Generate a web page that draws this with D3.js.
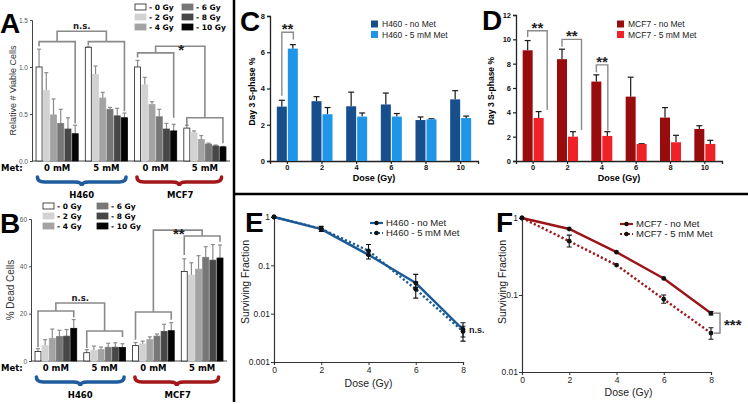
<!DOCTYPE html>
<html><head><meta charset="utf-8">
<script src="https://cdn.jsdelivr.net/npm/d3@7/dist/d3.min.js"></script>
<style>body{margin:0;background:#fff}svg{display:block}</style>
</head><body>
<svg id="c" width="748" height="404"></svg>
<script>
// ---------------- data ----------------
const doseLegend = ["- 0 Gy","- 2 Gy","- 4 Gy","- 6 Gy","- 8 Gy","- 10 Gy"];
const metLabels = ["0 mM","5 mM","0 mM","5 mM"];
const cellLines = ["H460","MCF7"];
const viableMean = [[1.00,0.75,0.49,0.40,0.34,0.29],[1.21,0.92,0.67,0.55,0.48,0.46],[1.00,0.81,0.60,0.47,0.34,0.32],[0.35,0.30,0.23,0.18,0.16,0.15]];
const viableErr  = [[0.19,0.19,0.17,0.15,0.12,0.09],[0.005,0.09,0.06,0.02,0.08,0.05],[0.07,0.08,0.03,0.08,0.06,0.07],[0.03,0.02,0.04,0.01,0.01,0.005]];
const deadMean = [[4.0,6.5,9.6,10.3,10.5,13.8],[3.5,4.5,4.8,5.8,5.8,5.7],[6.5,7.2,9.0,10.5,12.5,12.8],[37.8,36.3,38.8,43.8,42.6,43.5]];
const deadErr  = [[1.2,2.5,3.9,2.7,2.8,3.7],[1.3,1.8,1.1,1.7,1.9,1.6],[1.3,1.2,1.2,0.9,3.0,3.4],[5.4,5.2,5.7,4.5,6.6,5.5]];
const sDoses = [0,2,4,6,8,10];
const h460SNoMet = [3.0,3.3,3.02,3.12,2.26,3.4];
const h460SNoMetErr = [0.35,0.25,0.78,0.63,0.17,0.48];
const h460SMet = [6.2,2.58,2.45,2.45,2.3,2.37];
const h460SMetErr = [0.22,0.37,0.2,0.17,0.03,0.11];
const mcf7SNoMet = [9.1,8.37,6.53,5.29,3.57,2.63];
const mcf7SNoMetErr = [0.8,0.82,0.55,1.6,0.82,0.27];
const mcf7SMet = [3.54,2.0,2.06,1.4,1.54,1.4];
const mcf7SMetErr = [0.52,0.41,0.35,0.02,0.57,0.3];
const sfDoses = [0,2,4,6,8];
const h460SFNoMet = [1,0.56,0.165,0.043,0.0047];
const h460SFNoMetLo = [1,0.50,0.135,0.035,0.0027];
const h460SFNoMetHi = [1,0.64,0.20,0.065,0.0065];
const h460SFMet = [1,0.57,0.20,0.032,0.0043];
const h460SFMetLo = [1,0.57,0.16,0.021,0.0033];
const h460SFMetHi = [1,0.57,0.27,0.045,0.0055];
const mcf7SFNoMet = [1,0.72,0.36,0.164,0.058];
const mcf7SFNoMetLo = [1,0.72,0.36,0.164,0.055];
const mcf7SFNoMetHi = [1,0.72,0.36,0.164,0.061];
const mcf7SFMet = [1,0.50,0.245,0.088,0.032];
const mcf7SFMetLo = [1,0.42,0.245,0.078,0.0266];
const mcf7SFMetHi = [1,0.60,0.245,0.10,0.0376];
// annotation brackets (data units)
const aBrackets = [{g:0,y:1.27,yl:1.22,yr:0.40},{g:1,y:1.27,yl:1.23,yr:0.53},{g:2,y:1.15,yl:1.10,yr:0.46},{g:3,y:0.46,yl:0.37,yr:0.19}];
const aTops = [{a:0,b:1,y:1.38,label:"n.s."},{a:2,b:3,y:1.22,label:"*"}];
const bBrackets = [{g:0,y:21.1,yl:5.8,yr:18.4},{g:1,y:12.7,yl:5.5,yr:10.1},{g:2,y:20.7,yl:9.0,yr:17.4},{g:3,y:52.8,yl:44.8,yr:50.4}];
const bTops = [{a:0,b:1,y:24.5,label:"n.s."},{a:2,b:3,y:55.3,label:"**"}];

// ---------------- style ----------------
const AR = "'Liberation Sans', Arial, Helvetica, sans-serif";
const DV = "'DejaVu Sans', Verdana, sans-serif";
const shades = ["#ffffff","#d2d2d2","#a3a3a3","#777777","#474747","#050505"];
const BLUE = "#1f5c9e", RED = "#a3171b";
const svg = d3.select("#c");

function txt(x,y,s,o={}){
  const t = svg.append("text").attr("x",x).attr("y",y).text(s)
    .attr("font-family",o.f||AR).attr("font-size",o.size||9)
    .attr("font-weight",o.w||"normal").attr("fill",o.fill||"#000")
    .attr("text-anchor",o.anchor||"start");
  if(o.rot) t.attr("transform",`rotate(-90,${x},${y})`);
  return t;
}
function bracketPath(xL,xR,yT,yL,yR,col="#8a8a8a",w=1.6){
  svg.append("path").attr("d",`M${xL},${yL}V${yT}H${xR}V${yR}`)
    .attr("fill","none").attr("stroke",col).attr("stroke-width",w);
}
function brace(x1,x2,yTop,yMid,yTip,col){
  const m=(x1+x2)/2, r=7;
  svg.append("path").attr("d",
   `M${x1},${yTop}Q${x1},${yMid} ${x1+r},${yMid}L${m-r},${yMid}Q${m},${yMid} ${m},${yTip}Q${m},${yMid} ${m+r},${yMid}L${x2-r},${yMid}Q${x2},${yMid} ${x2},${yTop}`)
   .attr("fill","none").attr("stroke",col).attr("stroke-width",3.6).attr("stroke-linecap","round");
}

// ---------------- panels A & B ----------------
function groupedPanel(o){
  const y = d3.scaleLinear().domain([0,o.yMax]).range([o.bottom,o.top]);
  const xg = d3.scaleBand().domain(d3.range(4)).range([o.left,o.right]).paddingInner(0.12).paddingOuter(0.07);
  const xd = d3.scaleBand().domain(d3.range(6)).range([0,xg.bandwidth()]);
  const ax = svg.append("g").attr("transform",`translate(${o.left},0)`)
    .call(d3.axisLeft(y).tickValues(o.ticks).tickFormat(o.fmt).tickSize(2).tickPadding(2));
  ax.select(".domain").attr("stroke","#444").attr("stroke-width",1);
  ax.selectAll(".tick line").attr("stroke","#444");
  ax.selectAll("text").attr("font-family",AR).attr("font-size",6.5).attr("fill","#555");
  svg.append("line").attr("x1",o.left).attr("x2",o.right).attr("y1",o.bottom).attr("y2",o.bottom).attr("stroke","#444").attr("stroke-width",1);
  const cx=(g,d)=>xg(g)+xd(d)+xd.bandwidth()/2;
  o.means.forEach((arr,g)=>arr.forEach((v,d)=>{
    const x0 = xg(g)+xd(d)+0.6, w = xd.bandwidth()-1.2, top=y(v+o.errs[g][d]);
    svg.append("line").attr("x1",cx(g,d)).attr("x2",cx(g,d)).attr("y1",y(v)).attr("y2",top).attr("stroke","#8c8c8c").attr("stroke-width",1.2);
    svg.append("line").attr("x1",cx(g,d)-2).attr("x2",cx(g,d)+2).attr("y1",top).attr("y2",top).attr("stroke","#8c8c8c").attr("stroke-width",1.2);
    svg.append("rect").attr("x",x0).attr("y",y(v)).attr("width",w).attr("height",y(0)-y(v))
      .attr("fill",shades[d]).attr("stroke",d===0?"#222":shades[d]).attr("stroke-width",0.8);
  }));
  const mids=[];
  o.brackets.forEach(b=>{
    const xL=cx(b.g,0), xR=cx(b.g,5);
    bracketPath(xL,xR,y(b.y),y(b.yl),y(b.yr));
    mids[b.g]=(xL+xR)/2;
  });
  o.tops.forEach(t=>{
    const yl = y(o.brackets[t.a].y), yr = y(o.brackets[t.b].y);
    bracketPath(mids[t.a],mids[t.b],y(t.y),yl,yr);
    const isStar = t.label.indexOf("*")>=0;
    txt((mids[t.a]+mids[t.b])/2+(isStar?1:0), y(t.y)+(isStar?9:-2.5), t.label,{f:isStar?AR:DV,w:"bold",size:isStar?15:8.5,anchor:"middle",fill:"#222"});
  });
  txt(o.titleX,(o.top+o.bottom)/2,o.title,{rot:true,anchor:"middle",size:o.titleSize||9,fill:"#333"});
  txt(1,o.bottom+10,"Met:",{f:DV,w:"bold",size:8.5});
  metLabels.forEach((m,g)=>txt(xg(g)+xg.bandwidth()/2,o.bottom+10,m,{f:DV,w:"bold",size:8.5,anchor:"middle"}));
  brace(xg(0)+2,xg(1)+xg.bandwidth()-2,o.bottom+16,o.bottom+21,o.bottom+25,BLUE);
  brace(xg(2)+3,xg(3)+xg.bandwidth()-5,o.bottom+16,o.bottom+21,o.bottom+25,RED);
  txt((xg(0)+xg(1)+xg.bandwidth())/2,o.bottom+37,cellLines[0],{f:DV,w:"bold",size:8.5,anchor:"middle"});
  txt((xg(2)+xg(3)+xg.bandwidth())/2,o.bottom+37,cellLines[1],{f:DV,w:"bold",size:8.5,anchor:"middle"});
  doseLegend.forEach((s,i)=>{
    const col=Math.floor(i/3), row=i%3;
    const bx=o.legX+col*o.legDX, by=o.legY+row*10;
    svg.append("rect").attr("x",bx).attr("y",by).attr("width",11).attr("height",6)
      .attr("fill",shades[i]).attr("stroke",i===0?"#222":shades[i]).attr("stroke-width",0.8);
    txt(bx+14,by+6,s,{f:DV,w:"bold",size:7.5});
  });
}
groupedPanel({yMax:1.5,top:20,bottom:161,left:32,right:230,ticks:[0,0.5,1,1.5],fmt:d3.format(".1f"),
  means:viableMean,errs:viableErr,brackets:aBrackets,tops:aTops,title:"Relative # Viable Cells",titleX:16,
  legX:135,legY:4,legDX:47});
groupedPanel({yMax:60,top:219,bottom:361,left:31,right:227,ticks:[0,20,40,60],fmt:d3.format("d"),
  means:deadMean,errs:deadErr,brackets:bBrackets,tops:bTops,title:"% Dead Cells",titleX:14,titleSize:10,
  legX:43,legY:203,legDX:54});

// ---------------- panels C & D ----------------
function pairedPanel(o){
  const y = d3.scaleLinear().domain([0,o.yMax]).range([161,o.top]);
  const x = d3.scaleBand().domain(sDoses).range([o.left,o.right]);
  const ax = svg.append("g").attr("transform",`translate(${o.left},0)`)
    .call(d3.axisLeft(y).ticks(o.yMax/2).tickSize(3).tickPadding(2));
  const bx = svg.append("g").attr("transform",`translate(0,161)`)
    .call(d3.axisBottom(x).tickSize(3).tickPadding(1));
  [ax,bx].forEach(a=>{a.select(".domain").attr("stroke","#222").attr("stroke-width",1.3);
    a.selectAll(".tick line").attr("stroke","#222").attr("stroke-width",1.2);
    a.selectAll("text").attr("font-family",AR).attr("font-weight","bold").attr("font-size",7.5).attr("fill","#111");});
  const series=[[o.a,o.aErr,o.colA,-1],[o.b,o.bErr,o.colB,1]];
  series.forEach(([vals,errs,col,side])=>vals.forEach((v,i)=>{
    const c = x(sDoses[i])+x.bandwidth()/2;
    const x0 = side<0 ? c-10.5 : c+0.5, bc = x0+5, top=y(v+errs[i]);
    svg.append("line").attr("x1",bc).attr("x2",bc).attr("y1",y(v)).attr("y2",top).attr("stroke","#1a1a1a").attr("stroke-width",1.2);
    svg.append("line").attr("x1",bc-3).attr("x2",bc+3).attr("y1",top).attr("y2",top).attr("stroke","#1a1a1a").attr("stroke-width",1.2);
    svg.append("rect").attr("x",x0).attr("y",y(v)).attr("width",10).attr("height",161-y(v)).attr("fill",col);
  }));
  o.sig.forEach(s=>{
    const c = x(sDoses[s.i])+x.bandwidth()/2;
    bracketPath(c-5.5,c+s.dx,y(s.y),y(s.yl),y(s.yr),"#8a8a8a",1.4);
    txt((c-5.5+c+s.dx)/2,y(s.y)+2,"**",{w:"bold",size:15,anchor:"middle",fill:"#222"});
  });
  txt(o.titleX,(o.top+161)/2+3,"Day 3 S-phase %",{rot:true,anchor:"middle",w:"bold",size:8.5});
  txt((o.left+o.right)/2,181,"Dose (Gy)",{anchor:"middle",w:"bold",size:9});
  o.legend.forEach((s,i)=>{
    svg.append("rect").attr("x",o.legX).attr("y",o.legY+i*10.5-3.5).attr("width",7).attr("height",7).attr("fill",i?o.colB:o.colA);
    txt(o.legX+11,o.legY+i*10.5+3,s,{size:8.5,fill:"#222"});
  });
}
pairedPanel({yMax:8,top:16,left:270,right:478,a:h460SNoMet,aErr:h460SNoMetErr,b:h460SMet,bErr:h460SMetErr,
  colA:"#164f8c",colB:"#1e95e6",titleX:255,legX:371,legY:24,legend:["H460 - no Met","H460 - 5 mM Met"],
  sig:[{i:0,dx:6,y:7.1,yl:3.6,yr:6.7}]});
pairedPanel({yMax:12,top:15,left:516,right:722,a:mcf7SNoMet,aErr:mcf7SNoMetErr,b:mcf7SMet,bErr:mcf7SMetErr,
  colA:"#980c0e",colB:"#ee2227",titleX:494,legX:617,legY:24,legend:["MCF7 - no Met","MCF7 - 5 mM Met"],
  sig:[{i:0,dx:14,y:10.7,yl:10.2,yr:4.2},{i:1,dx:14,y:10.0,yl:9.4,yr:2.55},{i:2,dx:6,y:7.9,yl:7.3,yr:2.5}]});

// ---------------- panels E & F ----------------
function survivalPanel(o){
  const x = d3.scaleLinear().domain([0,8]).range([o.left,o.right]);
  const y = d3.scaleLog().domain([o.yMin,1]).range([o.bottom,o.top]);
  const ax = svg.append("g").attr("transform",`translate(${o.left},0)`)
    .call(d3.axisLeft(y).tickValues(o.yTicks).tickFormat(d=>String(d)).tickSize(3).tickPadding(1));
  const bx = svg.append("g").attr("transform",`translate(0,${o.bottom})`)
    .call(d3.axisBottom(x).tickValues(sfDoses).tickSize(3).tickPadding(2));
  [ax,bx].forEach(a=>{a.select(".domain").attr("stroke","#333").attr("stroke-width",1.2);
    a.selectAll(".tick line").attr("stroke","#333");
    a.selectAll("text").attr("font-family",AR).attr("font-size",8.5).attr("fill","#222");});
  const line = d3.line().x((d,i)=>x(sfDoses[i])).y(d=>y(d));
  o.series.forEach((s,k)=>{
    svg.append("path").datum(s.v).attr("d",line).attr("fill","none").attr("stroke",o.col)
      .attr("stroke-width",2.4).attr("stroke-dasharray",k?"2.2,2.2":null);
  });
  o.series.forEach(s=>s.v.forEach((v,i)=>{
    const cx=x(sfDoses[i]);
    if(s.hi[i]>s.lo[i]*1.02){
      svg.append("path").attr("d",`M${cx-2.5},${y(s.hi[i])}H${cx+2.5}M${cx},${y(s.hi[i])}V${y(s.lo[i])}M${cx-2.5},${y(s.lo[i])}H${cx+2.5}`)
        .attr("stroke","#111").attr("stroke-width",1.1).attr("fill","none");
    }
    svg.append("circle").attr("cx",cx).attr("cy",y(v)).attr("r",2.4).attr("fill","#111");
  }));
  o.series.forEach((s,k)=>{
    const ly=o.legY+k*10;
    svg.append("line").attr("x1",o.legX).attr("x2",o.legX+13).attr("y1",ly).attr("y2",ly).attr("stroke",o.col)
      .attr("stroke-width",2.2).attr("stroke-dasharray",k?"2,2":null);
    svg.append("circle").attr("cx",o.legX+6.5).attr("cy",ly).attr("r",2.2).attr("fill","#111");
    txt(o.legX+16,ly+3.3,s.name,{size:9.5,fill:"#222"});
  });
  txt(o.titleX,o.titleY,"Surviving Fraction",{rot:true,anchor:"middle",size:10.5,fill:"#222"});
  txt((o.left+o.right)/2+o.dxLabel,o.labelY,"Dose (Gy)",{anchor:"middle",size:10.5,fill:"#222"});
  return {x,y};
}
const E = survivalPanel({left:274,right:463,top:217,bottom:362,yMin:0.001,yTicks:[1,0.1,0.01,0.001],col:"#1c5a97",
  series:[{name:"H460 - no Met",v:h460SFNoMet,lo:h460SFNoMetLo,hi:h460SFNoMetHi},{name:"H460 - 5 mM Met",v:h460SFMet,lo:h460SFMetLo,hi:h460SFMetHi}],
  legX:370,legY:223,titleX:249,titleY:282,dxLabel:0,labelY:387});
txt(E.x(8)+6,E.y(0.0045)+3,"n.s.",{w:"bold",size:9,fill:"#222"});
const F = survivalPanel({left:522,right:711,top:218,bottom:372,yMin:0.01,yTicks:[1,0.1,0.01],col:"#9b1518",
  series:[{name:"MCF7 - no Met",v:mcf7SFNoMet,lo:mcf7SFNoMetLo,hi:mcf7SFNoMetHi},{name:"MCF7 - 5 mM Met",v:mcf7SFMet,lo:mcf7SFMetLo,hi:mcf7SFMetHi}],
  legX:620,legY:224,titleX:506,titleY:282,dxLabel:12,labelY:396});
{
  const x8=F.x(8), ya=F.y(mcf7SFNoMet[4]), yb=F.y(mcf7SFMet[4]);
  svg.append("path").attr("d",`M${x8+3},${ya}H${x8+9}V${yb}H${x8+3}`).attr("fill","none").attr("stroke","#777").attr("stroke-width",1.3);
  txt(x8+13,(ya+yb)/2+7,"***",{w:"bold",size:15,fill:"#222"});
}

// ---------------- panel letters & separators ----------------
[["A",0,33],["B",0,233],["C",240,31],["D",482,30],["E",245,232],["F",496,232]].forEach(([s,x,y])=>
  txt(x,y,s,{w:"bold",size:28}));
svg.append("line").attr("x1",234).attr("x2",234).attr("y1",0).attr("y2",402).attr("stroke","#000").attr("stroke-width",2.5);
svg.append("line").attr("x1",234).attr("x2",748).attr("y1",194).attr("y2",194).attr("stroke","#000").attr("stroke-width",2.5);
</script>
</body></html>
